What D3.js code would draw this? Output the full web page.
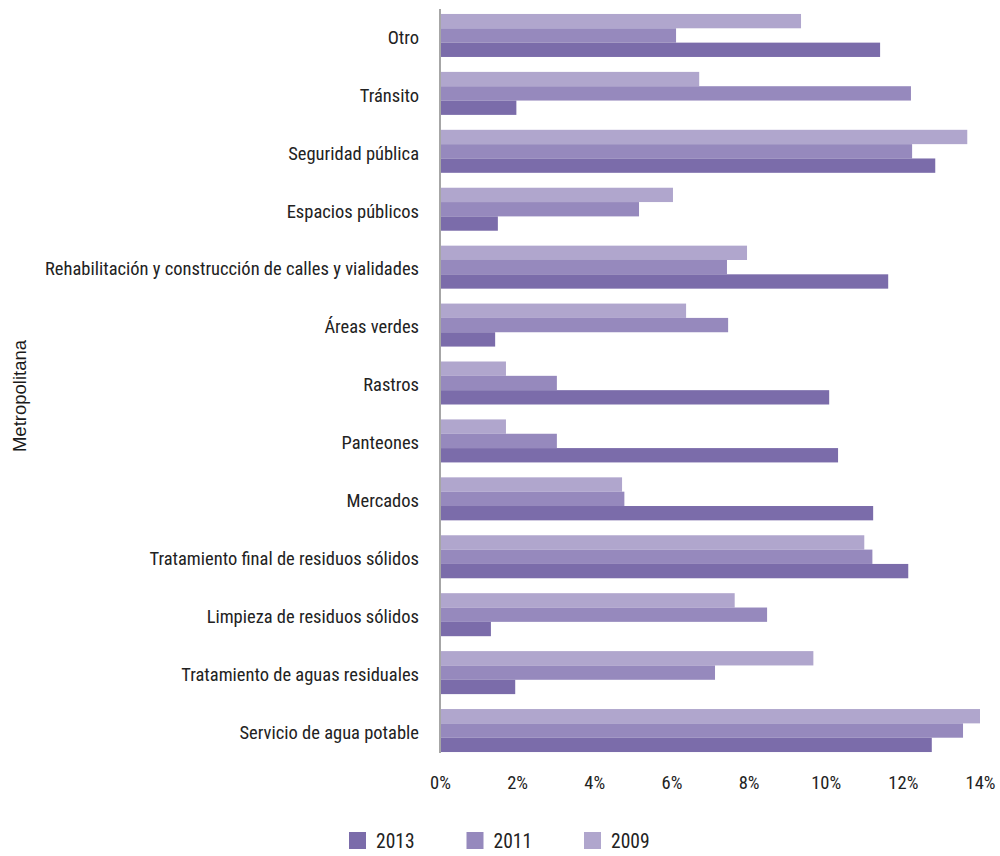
<!DOCTYPE html>
<html>
<head>
<meta charset="utf-8">
<script src="https://cdn.jsdelivr.net/npm/d3@7"></script>
<style>
  html, body { margin: 0; padding: 0; background: #fff; }
  svg { display: block; }
</style>
</head>
<body>
<svg id="chart" width="1000" height="856"></svg>
<script>
const categories = [
  "Otro",
  "Tránsito",
  "Seguridad pública",
  "Espacios públicos",
  "Rehabilitación y construcción de calles y vialidades",
  "Áreas verdes",
  "Rastros",
  "Panteones",
  "Mercados",
  "Tratamiento final de residuos sólidos",
  "Limpieza de residuos sólidos",
  "Tratamiento de aguas residuales",
  "Servicio de agua potable"
];
const seriesNames = ["2009", "2011", "2013"];
const values2009 = [9.36, 6.72, 13.67, 6.04, 7.96, 6.38, 1.71, 1.71, 4.72, 11.00, 7.64, 9.68, 14.00];
const values2011 = [6.12, 12.21, 12.24, 5.16, 7.44, 7.47, 3.03, 3.03, 4.78, 11.21, 8.48, 7.13, 13.56];
const values2013 = [11.41, 1.98, 12.84, 1.50, 11.62, 1.43, 10.09, 10.32, 11.23, 12.14, 1.32, 1.95, 12.75];
const tickValues = [0, 2, 4, 6, 8, 10, 12, 14];
const legendOrder = ["2013", "2011", "2009"];
const axisTitle = "Metropolitana";

const seriesValues = { "2009": values2009, "2011": values2011, "2013": values2013 };
const colors = { "2009": "#b0a6cd", "2011": "#9689bd", "2013": "#7b6caa" };

const svg = d3.select("#chart");
const labelFont = "'Roboto Condensed', 'Liberation Sans Narrow', 'Arial Narrow', sans-serif";

const x = d3.scaleLinear().domain([0, 14]).range([440, 980]);
const y = d3.scaleBand().domain(categories).range([6.5, 759.5])
  .paddingInner(0.2576).paddingOuter(0.1288);
const ySub = d3.scaleBand().domain(seriesNames).range([0, y.bandwidth()]);

// bars
const groups = svg.append("g").selectAll("g")
  .data(categories)
  .join("g")
  .attr("transform", d => `translate(0,${y(d)})`);

groups.selectAll("rect")
  .data((d, i) => seriesNames.map(s => ({ s, v: seriesValues[s][i] })))
  .join("rect")
  .attr("x", x(0))
  .attr("y", d => ySub(d.s))
  .attr("height", ySub.bandwidth())
  .attr("width", d => x(d.v) - x(0))
  .attr("fill", d => colors[d.s]);

// vertical axis line
svg.append("line")
  .attr("x1", x(0)).attr("x2", x(0))
  .attr("y1", 9).attr("y2", 753)
  .attr("stroke", "#a6a6a6").attr("stroke-width", 2);

// category labels
svg.append("g").selectAll("text")
  .data(categories)
  .join("text")
  .attr("x", 419)
  .attr("y", d => y(d) + y.bandwidth() / 2)
  .attr("dy", "0.45em")
  .attr("text-anchor", "end")
  .attr("font-family", labelFont)
  .attr("font-weight", 400)
  .attr("font-size", 18.5)
  .attr("fill", "#222")
  .text(d => d);

// x axis tick labels
const xAxis = d3.axisBottom(x).tickValues(tickValues).tickSize(0).tickPadding(0)
  .tickFormat(d => d + "%");
const gx = svg.append("g").attr("transform", "translate(0,772)").call(xAxis);
gx.select(".domain").remove();
gx.selectAll("text")
  .attr("font-family", labelFont)
  .attr("font-weight", 400)
  .attr("font-size", 18.5)
  .attr("fill", "#222")
  .attr("dy", "0.9em");

// y axis title
svg.append("text")
  .attr("transform", "translate(26,396) rotate(-90)")
  .attr("text-anchor", "middle")
  .attr("font-family", "'Liberation Sans', Arial, sans-serif")
  .attr("font-size", 18.5)
  .attr("fill", "#1a1a1a")
  .text(axisTitle);

// legend
const legendX = d3.scalePoint().domain(legendOrder).range([349, 584]);
const lg = svg.append("g").selectAll("g")
  .data(legendOrder)
  .join("g")
  .attr("transform", d => `translate(${legendX(d)},832)`);
lg.append("rect")
  .attr("width", 17).attr("height", 17)
  .attr("fill", d => colors[d]);
lg.append("text")
  .attr("x", 27).attr("y", 16)
  .attr("font-family", labelFont)
  .attr("font-weight", 400)
  .attr("font-size", 19.5)
  .attr("fill", "#222")
  .text(d => d);
</script>
</body>
</html>
